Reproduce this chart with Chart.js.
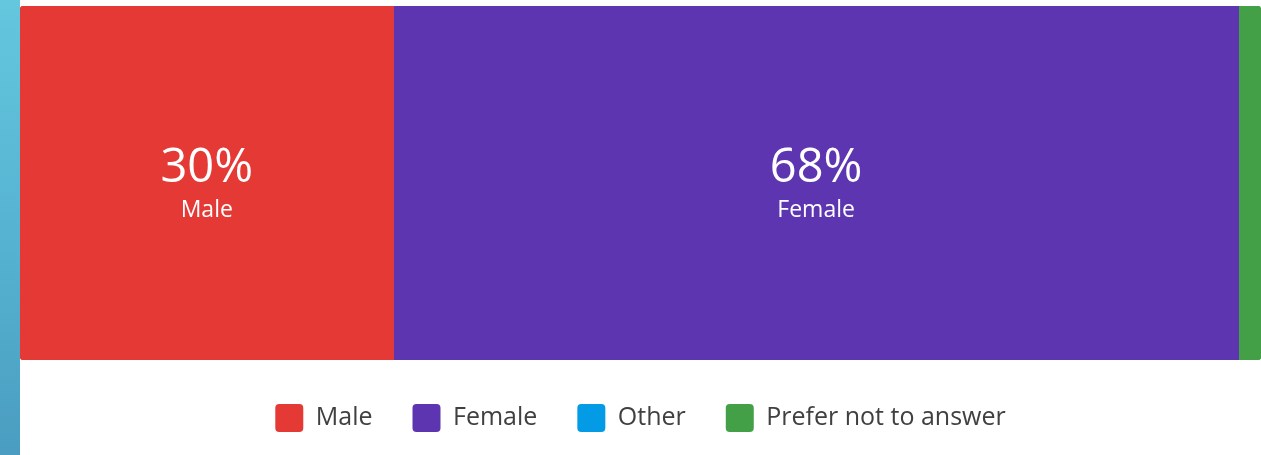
<!DOCTYPE html>
<html>
<head>
<meta charset="utf-8">
<script src="https://cdn.jsdelivr.net/npm/chart.js@4"></script>
<style>
  html, body { margin: 0; padding: 0; background: #fff; overflow: hidden; }
  #strip { position: absolute; left: 0; top: 0; width: 20px; height: 455px;
           background: linear-gradient(180deg, #64c7de 0%, #56b4d2 50%, #4a9dc0 100%); }
  #wrap { position: absolute; left: 20px; top: 0; width: 1241px; height: 450px; }
</style>
</head>
<body>
<div id="strip"></div>
<div id="wrap"><canvas id="chart"></canvas></div>
<script>
const categories = ["Male", "Female", "Other", "Prefer not to answer"]
const values = [30.1, 68.1, 0, 1.8]
const colors = ["#e53935", "#5e35b1", "#039be5", "#43a047"]
const total = values.reduce((a, b) => a + b, 0)

const fontName = "'Open Sans', sans-serif"

// draws "30%" + name in the middle of each wide enough segment
const segmentLabels = {
  id: 'segmentLabels',
  afterDatasetsDraw(chart) {
    const ctx = chart.ctx
    chart.data.datasets.forEach((ds, i) => {
      const bar = chart.getDatasetMeta(i).data[0]
      if (!bar || ds.data[0] < 5) return
      const p = bar.getProps(['x', 'y', 'base'], true)
      const cx = (p.x + p.base) / 2
      ctx.save()
      ctx.fillStyle = '#fff'
      ctx.textAlign = 'center'
      ctx.textBaseline = 'middle'
      ctx.font = "47px " + fontName
      ctx.fillText(Math.round(ds.data[0]) + '%', cx, p.y - 14)
      ctx.font = "23px " + fontName
      ctx.fillText(ds.label, cx, p.y + 27)
      ctx.restore()
    })
  }
}

new Chart(document.getElementById("chart"), {
    type: 'bar',
    data: {
      labels: [""],
      datasets: categories.map((c, i) => ({
        label: c,
        data: [values[i]],
        backgroundColor: colors[i],
        borderRadius: 4,
        borderSkipped: 'middle',
        barPercentage: 1,
        categoryPercentage: 1
      }))
    },
    options: {
      indexAxis: 'y',
      responsive: true,
      maintainAspectRatio: false,
      animation: false,
      layout: { padding: { top: 6, bottom: 8, left: 0, right: 0 } },
      scales: {
        x: {
          stacked: true, min: 0, max: total,
          grid: { display: false }, border: { display: false },
          ticks: { display: false },
          afterFit(scale) { scale.height = 4 }
        },
        y: { stacked: true, display: false }
      },
      plugins: {
        tooltip: { enabled: false },
        legend: {
          position: 'bottom',
          labels: {
            boxWidth: 28,
            boxHeight: 28,
            useBorderRadius: true,
            borderRadius: 4,
            padding: 40,
            color: '#404040',
            font: { family: fontName, size: 25 }
          }
        }
      }
    },
    plugins: [segmentLabels]
});
</script>
</body>
</html>
